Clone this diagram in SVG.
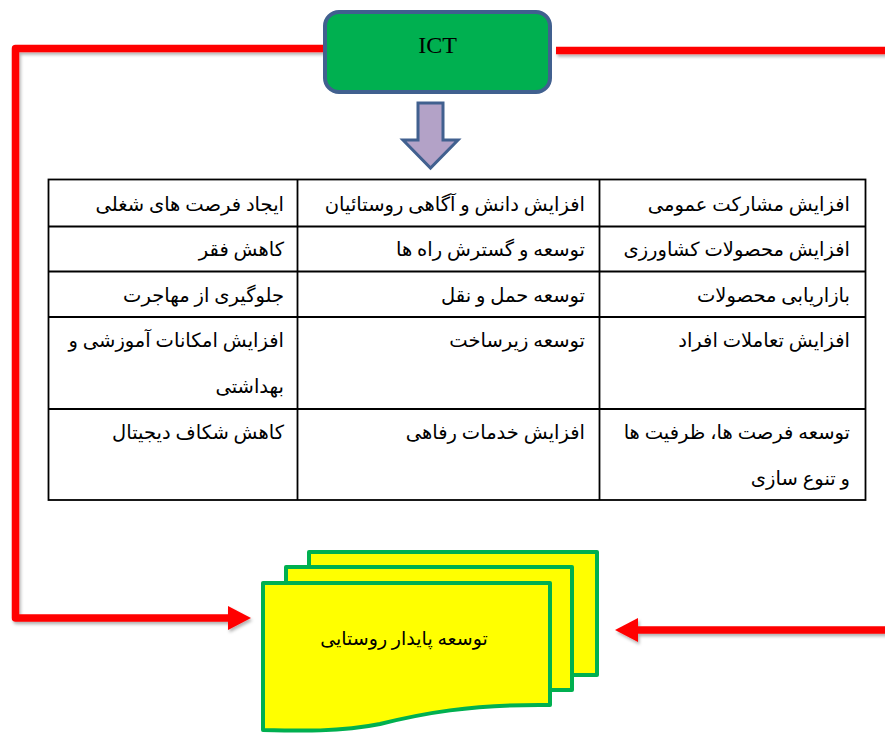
<svg xmlns="http://www.w3.org/2000/svg" width="885" height="733" viewBox="0 0 885 733">
  <style>
    .red { fill: none; stroke: #ff0000; stroke-width: 7.5; stroke-linejoin: round; filter: url(#sh); }
    .grid { stroke: #000; stroke-width: 1.8; fill: none; }
    .cell { font-family: "Liberation Serif", "DejaVu Sans", serif; font-size: 19.5px; fill: #000; text-anchor: end; }
    .doc { fill: #ffff00; stroke: #00b050; stroke-width: 4; stroke-linejoin: round; }
  </style>
  <defs>
    <filter id="sh" filterUnits="userSpaceOnUse" x="0" y="0" width="885" height="733">
      <feDropShadow dx="1.5" dy="2.5" stdDeviation="1.5" flood-color="#000" flood-opacity="0.3"/>
    </filter>
    <marker id="ah" markerUnits="userSpaceOnUse" markerWidth="24" markerHeight="24" refX="0" refY="12" orient="auto">
      <path d="M0,0 L23,12 L0,24 z" fill="#ff0000"/>
    </marker>
  </defs>

  <g id="connectors">
    <path class="red" d="M326,48.5 L15.5,48.5 L15.5,618 L228,618" marker-end="url(#ah)"/>
    <path class="red" d="M556,50.5 L890,50.5"/>
    <path class="red" d="M890,630 L638,630" marker-end="url(#ah)"/>
    <path d="M418,103 L443,103 L443,140 L458,140 L430.5,168 L403,140 L418,140 z" fill="#b3a2c7" stroke="#41608f" stroke-width="3" stroke-linejoin="miter"/>
  </g>

  <g id="ict">
    <rect x="325" y="12" width="225" height="80" rx="14" ry="14" fill="#00b050" stroke="#41608f" stroke-width="4"/>
    <text x="437.5" y="53" font-family="Liberation Serif, serif" font-size="24" text-anchor="middle" fill="#000">ICT</text>
  </g>

  <g id="table">
    <rect class="grid" x="48.5" y="179.5" width="817" height="320.5"/>
    <line class="grid" x1="297.5" y1="179.5" x2="297.5" y2="500"/>
    <line class="grid" x1="599.5" y1="179.5" x2="599.5" y2="500"/>
    <line class="grid" x1="48.5" y1="226.5" x2="865.5" y2="226.5"/>
    <line class="grid" x1="48.5" y1="271.5" x2="865.5" y2="271.5"/>
    <line class="grid" x1="48.5" y1="317" x2="865.5" y2="317"/>
    <line class="grid" x1="48.5" y1="409" x2="865.5" y2="409"/>

    <text class="cell" x="850" y="211">افزایش مشارکت عمومی</text>
    <text class="cell" x="585" y="211">افزایش دانش و آگاهی روستائیان</text>
    <text class="cell" x="284" y="211">ایجاد فرصت های شغلی</text>

    <text class="cell" x="850" y="256">افزایش محصولات کشاورزی</text>
    <text class="cell" x="585" y="256">توسعه و گسترش راه ها</text>
    <text class="cell" x="284" y="256">کاهش فقر</text>

    <text class="cell" x="850" y="302">بازاریابی محصولات</text>
    <text class="cell" x="585" y="302">توسعه حمل و نقل</text>
    <text class="cell" x="284" y="302">جلوگیری از مهاجرت</text>

    <text class="cell" x="850" y="347">افزایش تعاملات افراد</text>
    <text class="cell" x="585" y="347">توسعه زیرساخت</text>
    <text class="cell" x="284" y="347">افزایش امکانات آموزشی و</text>
    <text class="cell" x="284" y="393">بهداشتی</text>

    <text class="cell" x="850" y="439">توسعه فرصت ها، ظرفیت ها</text>
    <text class="cell" x="850" y="485">و تنوع سازی</text>
    <text class="cell" x="585" y="439">افزایش خدمات رفاهی</text>
    <text class="cell" x="284" y="439">کاهش شکاف دیجیتال</text>
  </g>

  <g id="sustainable">
    <rect class="doc" x="309" y="552" width="288" height="123"/>
    <rect class="doc" x="286" y="567" width="286" height="123"/>
    <path class="doc" d="M263,583 L550,583 L550,705 C470,704 420,714 380,724 C340,732 300,731 263,730 z"/>
    <text x="404" y="645" font-family="Liberation Serif, DejaVu Sans, serif" font-size="19" text-anchor="middle" fill="#000">توسعه پایدار روستایی</text>
  </g>
</svg>
